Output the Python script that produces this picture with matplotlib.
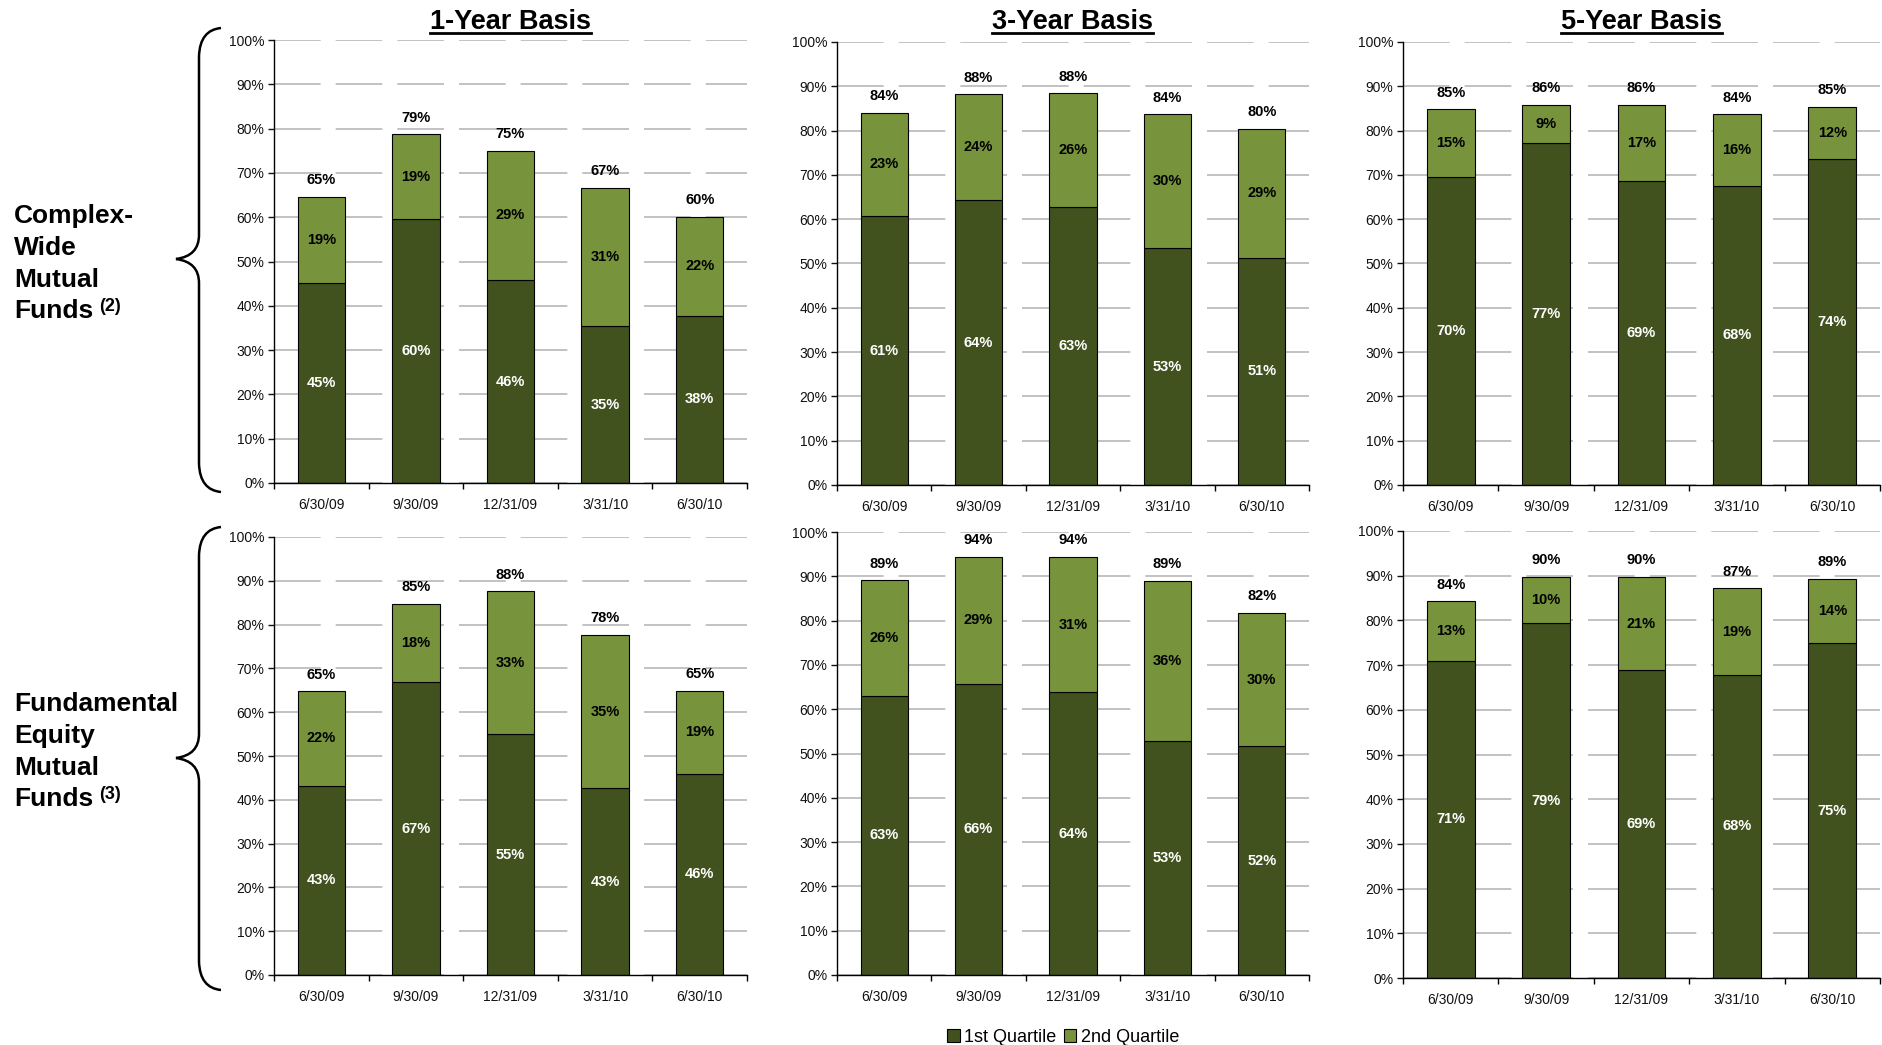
import numpy as np
import matplotlib
matplotlib.use("Agg")
import matplotlib.pyplot as plt
from matplotlib.patches import Patch, PathPatch
from matplotlib.path import Path
from matplotlib.lines import Line2D

plt.rcParams['font.family'] = ['Liberation Sans', 'DejaVu Sans']

dates = ["6/30/09", "9/30/09", "12/31/09", "3/31/10", "6/30/10"]
titles = ["1-Year Basis", "3-Year Basis", "5-Year Basis"]
legend_labels = ["1st Quartile", "2nd Quartile"]

# % of funds in 1st / 2nd quartile, Complex-Wide Mutual Funds
cw_1y_q1 = [45.2, 59.6, 45.8, 35.4, 37.8]
cw_1y_q2 = [19.4, 19.1, 29.2, 31.2, 22.3]
cw_3y_q1 = [60.7, 64.3, 62.8, 53.4, 51.3]
cw_3y_q2 = [23.3, 23.9, 25.6, 30.3, 29.1]
cw_5y_q1 = [69.6, 77.1, 68.6, 67.6, 73.6]
cw_5y_q2 = [15.2, 8.7, 17.2, 16.1, 11.7]

# Fundamental Equity Mutual Funds
fe_1y_q1 = [43.2, 66.8, 55.0, 42.6, 46.0]
fe_1y_q2 = [21.6, 17.9, 32.6, 35.1, 18.9]
fe_3y_q1 = [63.0, 65.8, 63.8, 52.8, 51.6]
fe_3y_q2 = [26.1, 28.6, 30.6, 36.2, 30.2]
fe_5y_q1 = [71.0, 79.4, 68.9, 67.8, 74.9]
fe_5y_q2 = [13.3, 10.3, 20.8, 19.4, 14.4]

DARK = "#41521f"
LIGHT = "#77933c"
GRID = "#b8b8b8"

W, H = 1883, 1045
fig = plt.figure(figsize=(W / 100, H / 100), dpi=100)


def fx(x):
    return x / W


def fy(y):
    return 1 - y / H


# axes boxes in pixels (left, top, right, bottom)
boxes = [
    [(274, 40, 747, 483), (837, 42, 1309, 485), (1403, 42, 1880, 485)],
    [(274, 537, 747, 975), (837, 532, 1309, 975), (1403, 531, 1880, 978)],
]
data = [
    [(cw_1y_q1, cw_1y_q2), (cw_3y_q1, cw_3y_q2), (cw_5y_q1, cw_5y_q2)],
    [(fe_1y_q1, fe_1y_q2), (fe_3y_q1, fe_3y_q2), (fe_5y_q1, fe_5y_q2)],
]


def draw_panel(ax, q1, q2):
    x = np.arange(len(dates))
    ax.bar(x, q1, 0.5, color=DARK, edgecolor="black", linewidth=0.8, zorder=2)
    ax.bar(x, q2, 0.5, bottom=q1, color=LIGHT, edgecolor="black", linewidth=0.8, zorder=2)
    for xi, a, b in zip(x, q1, q2):
        ax.text(xi, a / 2, f"{a:.0f}%", color="white", ha="center", va="center",
                fontsize=10.5, fontweight="bold", zorder=3)
        ax.text(xi, a + b / 2, f"{b:.0f}%", color="black", ha="center", va="center",
                fontsize=10.5, fontweight="bold", zorder=3)
        ax.annotate(f"{a + b:.0f}%", (xi, a + b), xytext=(0, 12), textcoords="offset points",
                    ha="center", va="center", fontsize=10.5, fontweight="bold")

    ax.set_xlim(-0.5, 4.5)
    ax.set_ylim(0, 100)
    ax.set_yticks(np.arange(0, 101, 10))
    ax.set_yticklabels([f"{v}%" for v in range(0, 101, 10)])
    ax.set_xticks(x)
    ax.set_xticklabels(dates)
    ax.set_xticks(np.arange(-0.5, 5, 1), minor=True)
    ax.tick_params(axis="x", which="major", length=0, pad=11, labelsize=10, colors="#111111")
    ax.tick_params(axis="x", which="minor", length=4, width=1, direction="out")
    ax.tick_params(axis="y", length=4, width=1, pad=3, labelsize=10, colors="#111111")
    ax.yaxis.grid(True, color=GRID, linewidth=1.2, linestyle=(0, (28, 9)))
    ax.set_axisbelow(True)
    for s in ["top", "right"]:
        ax.spines[s].set_visible(False)
    for s in ["left", "bottom"]:
        ax.spines[s].set_linewidth(1.0)
        ax.spines[s].set_color("black")


axes = []
for r in range(2):
    for c in range(3):
        x0, y0, x1, y1 = boxes[r][c]
        ax = fig.add_axes([fx(x0), fy(y1), (x1 - x0) / W, (y1 - y0) / H])
        draw_panel(ax, *data[r][c])
        axes.append(ax)

# column titles
title_texts = []
for c in range(3):
    x0, y0, x1, y1 = boxes[0][c]
    t = fig.text(fx((x0 + x1) / 2), fy(29), titles[c], ha="center", va="baseline",
                 fontsize=19.5, fontweight="bold")
    title_texts.append(t)

# row labels
row_lines = [["Complex-", "Wide", "Mutual", "Funds"],
             ["Fundamental", "Equity", "Mutual", "Funds"]]
row_base = [[223, 255, 287, 318], [711, 743, 775, 806]]
row_note = ["(2)", "(3)"]
funds_texts = []
for r in range(2):
    for line, yb in zip(row_lines[r], row_base[r]):
        t = fig.text(fx(14), fy(yb), line, ha="left", va="baseline",
                     fontsize=19, fontweight="bold")
    funds_texts.append((t, row_base[r][-1] - 7))


# curly braces
def brace(y_top, y_tip, y_bot):
    xe, xl, xt = 221, 199, 176
    pts = [(xe, y_top), (xl + 1, y_top + 2), (xl, y_top + 28),
           (xl, y_tip - 24),
           (xl, y_tip - 3), (xt, y_tip),
           (xl, y_tip + 3), (xl, y_tip + 24),
           (xl, y_bot - 28),
           (xl + 1, y_bot - 2), (xe, y_bot)]
    codes = [Path.MOVETO, Path.CURVE3, Path.CURVE3, Path.LINETO,
             Path.CURVE3, Path.CURVE3, Path.CURVE3, Path.CURVE3,
             Path.LINETO, Path.CURVE3, Path.CURVE3]
    path = Path([(fx(a), fy(b)) for a, b in pts], codes)
    fig.add_artist(PathPatch(path, fill=False, lw=1.8, edgecolor="black",
                             transform=fig.transFigure))


brace(28, 259, 492)
brace(527, 758, 990)

# legend
handles = [Patch(facecolor=DARK, edgecolor="black", linewidth=0.8, label=legend_labels[0]),
           Patch(facecolor=LIGHT, edgecolor="black", linewidth=0.8, label=legend_labels[1])]
fig.legend(handles=handles, loc="center", bbox_to_anchor=(fx(1063), fy(1037)), ncol=2,
           frameon=False, fontsize=13, handlelength=0.7, handleheight=0.7,
           handletextpad=0.25, columnspacing=0.4, borderaxespad=0, borderpad=0)

# underline titles and add footnote marks
fig.canvas.draw()
renderer = fig.canvas.get_renderer()
for t in title_texts:
    bb = t.get_window_extent(renderer)
    fig.add_artist(Line2D([bb.x0 / W, bb.x1 / W], [fy(33), fy(33)], lw=2,
                          color="black", transform=fig.transFigure))
for (t, yb), note in zip(funds_texts, row_note):
    bb = t.get_window_extent(renderer)
    fig.text((bb.x1 + 6) / W, fy(yb), note, ha="left", va="baseline",
             fontsize=13, fontweight="bold")

fig.savefig("out.png", dpi=100)
